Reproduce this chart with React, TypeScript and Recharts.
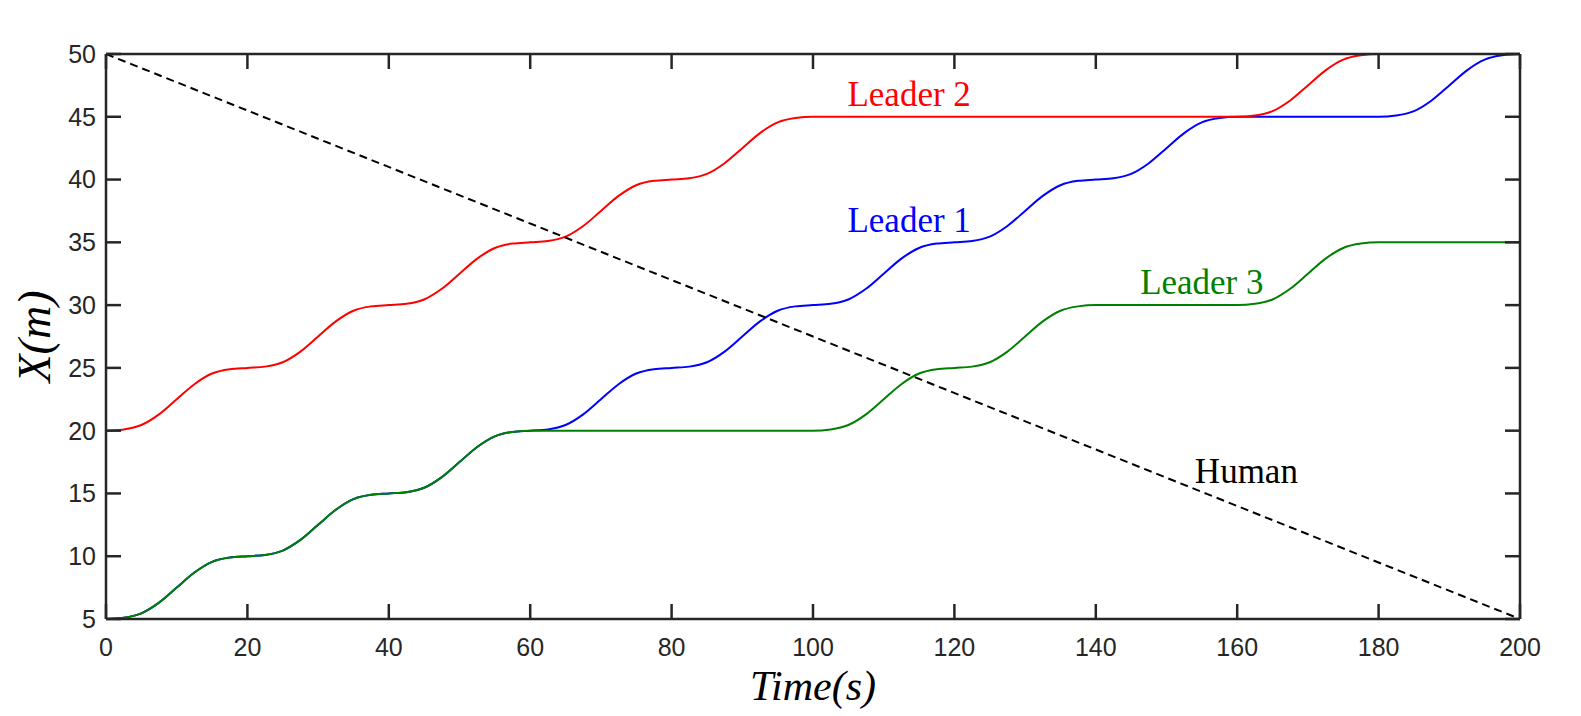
import React from "react";
import {
  LineChart, Line, XAxis, YAxis, ReferenceDot, Label
} from "recharts";

// sample times (s), one reading every 2.5 s
const time = [
  0, 2.5, 5, 7.5, 10, 12.5, 15, 17.5, 20, 22.5, 25, 27.5, 30, 32.5, 35, 37.5,
  40, 42.5, 45, 47.5, 50, 52.5, 55, 57.5, 60, 62.5, 65, 67.5, 70, 72.5, 75, 77.5,
  80, 82.5, 85, 87.5, 90, 92.5, 95, 97.5, 100, 102.5, 105, 107.5, 110, 112.5, 115, 117.5,
  120, 122.5, 125, 127.5, 130, 132.5, 135, 137.5, 140, 142.5, 145, 147.5, 150, 152.5, 155, 157.5,
  160, 162.5, 165, 167.5, 170, 172.5, 175, 177.5, 180, 182.5, 185, 187.5, 190, 192.5, 195, 197.5,
  200,
];

const leader1 = [
  5, 5.1, 5.45, 6.3, 7.5, 8.7, 9.55, 9.9,
  10, 10.1, 10.45, 11.3, 12.5, 13.7, 14.55, 14.9,
  15, 15.1, 15.45, 16.3, 17.5, 18.7, 19.55, 19.9,
  20, 20.1, 20.45, 21.3, 22.5, 23.7, 24.55, 24.9,
  25, 25.1, 25.45, 26.3, 27.5, 28.7, 29.55, 29.9,
  30, 30.1, 30.45, 31.3, 32.5, 33.7, 34.55, 34.9,
  35, 35.1, 35.45, 36.3, 37.5, 38.7, 39.55, 39.9,
  40, 40.1, 40.45, 41.3, 42.5, 43.7, 44.55, 44.9,
  45, 45, 45, 45, 45, 45, 45, 45,
  45, 45.1, 45.45, 46.3, 47.5, 48.7, 49.55, 49.9,
  50,
];

const leader2 = [
  20, 20.1, 20.45, 21.3, 22.5, 23.7, 24.55, 24.9,
  25, 25.1, 25.45, 26.3, 27.5, 28.7, 29.55, 29.9,
  30, 30.1, 30.45, 31.3, 32.5, 33.7, 34.55, 34.9,
  35, 35.1, 35.45, 36.3, 37.5, 38.7, 39.55, 39.9,
  40, 40.1, 40.45, 41.3, 42.5, 43.7, 44.55, 44.9,
  45, 45, 45, 45, 45, 45, 45, 45,
  45, 45, 45, 45, 45, 45, 45, 45,
  45, 45, 45, 45, 45, 45, 45, 45,
  45, 45.1, 45.45, 46.3, 47.5, 48.7, 49.55, 49.9,
  50, 50, 50, 50, 50, 50, 50, 50,
  50,
];

const leader3 = [
  5, 5.1, 5.45, 6.3, 7.5, 8.7, 9.55, 9.9,
  10, 10.1, 10.45, 11.3, 12.5, 13.7, 14.55, 14.9,
  15, 15.1, 15.45, 16.3, 17.5, 18.7, 19.55, 19.9,
  20, 20, 20, 20, 20, 20, 20, 20,
  20, 20, 20, 20, 20, 20, 20, 20,
  20, 20.1, 20.45, 21.3, 22.5, 23.7, 24.55, 24.9,
  25, 25.1, 25.45, 26.3, 27.5, 28.7, 29.55, 29.9,
  30, 30, 30, 30, 30, 30, 30, 30,
  30, 30.1, 30.45, 31.3, 32.5, 33.7, 34.55, 34.9,
  35, 35, 35, 35, 35, 35, 35, 35,
  35,
];

const humanTime = [0, 200];
const human = [50, 5];

const xTicks = [0, 20, 40, 60, 80, 100, 120, 140, 160, 180, 200];
const yTicks = [5, 10, 15, 20, 25, 30, 35, 40, 45, 50];

const notes = ["Leader 2", "Leader 1", "Leader 3", "Human"];
const noteColors = ["#ff0000", "#0000ff", "#008000", "#000000"];
const noteX = [113.6, 113.6, 155, 161.3];
const noteY = [45.85, 35.85, 30.85, 15.85];

const rows = time.map((t, i) => ({ t, l1: leader1[i], l2: leader2[i], l3: leader3[i] }));
const humanRows = humanTime.map((t, i) => ({ t, h: human[i] }));

const ink = "#262626";
const axisStroke = { stroke: ink, strokeWidth: 2.5 };
const tickFont = { fontSize: 25, fill: ink, fontFamily: "'Liberation Sans', Arial, sans-serif" };
const serif = "'Liberation Serif', 'Times New Roman', serif";
const noLabel = () => <g />;

const TimeTitle = (props: any) => {
  const vb = props.viewBox;
  return (
    <text x={vb.x + vb.width / 2} y={vb.y + 81} textAnchor="middle" fill="#000"
      fontSize={42} fontStyle="italic" fontFamily={serif}>
      Time(s)
    </text>
  );
};

const XTitle = (props: any) => {
  const vb = props.viewBox;
  const cx = vb.x + 4;
  const cy = vb.y + vb.height / 2;
  return (
    <text x={cx} y={cy} transform={`rotate(-90 ${cx} ${cy})`} textAnchor="middle" fill="#000"
      fontSize={46} fontStyle="italic" fontFamily={serif}>
      X(m)
    </text>
  );
};

const noteContent = (text: string, color: string) => (props: any) => {
  const vb = props.viewBox;
  return (
    <text x={vb.x + vb.width / 2} y={vb.y + vb.height / 2} textAnchor="middle" fill={color}
      fontSize={35} fontFamily={serif}>
      {text}
    </text>
  );
};

export default function App() {
  return (
    <div style={{ position: "absolute", left: 0, top: 0, background: "#fff" }}>
      <LineChart width={1581} height={716} data={rows}
        margin={{ top: 54, right: 61, bottom: 47, left: 46 }}>
        <XAxis xAxisId="x" dataKey="t" type="number" domain={[0, 200]} ticks={xTicks}
          allowDataOverflow interval={0} height={50} tickLine={false} tickSize={0}
          tickMargin={19} axisLine={axisStroke} tick={tickFont}>
          <Label content={TimeTitle} />
        </XAxis>
        <XAxis xAxisId="xi" dataKey="t" type="number" domain={[0, 200]} ticks={xTicks}
          allowDataOverflow interval={0} mirror tick={noLabel} tickSize={15}
          tickLine={axisStroke} axisLine={false} />
        <XAxis xAxisId="top" orientation="top" dataKey="t" type="number" domain={[0, 200]}
          ticks={xTicks} allowDataOverflow interval={0} mirror tick={noLabel} tickSize={15}
          tickLine={axisStroke} axisLine={axisStroke} />
        <YAxis yAxisId="y" type="number" domain={[5, 50]} ticks={yTicks} allowDataOverflow
          interval={0} width={60} tickLine={false} tickSize={0} tickMargin={10}
          axisLine={axisStroke} tick={tickFont}>
          <Label content={XTitle} />
        </YAxis>
        <YAxis yAxisId="yi" type="number" domain={[5, 50]} ticks={yTicks} allowDataOverflow
          interval={0} mirror tick={noLabel} tickSize={15} tickLine={axisStroke} axisLine={false} />
        <YAxis yAxisId="right" orientation="right" type="number" domain={[5, 50]} ticks={yTicks}
          allowDataOverflow interval={0} mirror tick={noLabel} tickSize={15}
          tickLine={axisStroke} axisLine={axisStroke} />

        <Line xAxisId="x" yAxisId="y" dataKey="l1" type="monotoneX" stroke="#0000ff"
          strokeWidth={2} dot={false} isAnimationActive={false} />
        <Line xAxisId="x" yAxisId="y" dataKey="l2" type="monotoneX" stroke="#ff0000"
          strokeWidth={2} dot={false} isAnimationActive={false} />
        <Line xAxisId="x" yAxisId="y" dataKey="l3" type="monotoneX" stroke="#008000"
          strokeWidth={2} dot={false} isAnimationActive={false} />
        <Line xAxisId="x" yAxisId="y" data={humanRows} dataKey="h" type="linear" stroke="#000"
          strokeWidth={2} strokeDasharray="8 5" dot={false} isAnimationActive={false} />

        {notes.map((n, i) => (
          <ReferenceDot key={n} xAxisId="x" yAxisId="y" x={noteX[i]} y={noteY[i]} r={1}
            fill="none" stroke="none" label={noteContent(n, noteColors[i])} />
        ))}
      </LineChart>
    </div>
  );
}
